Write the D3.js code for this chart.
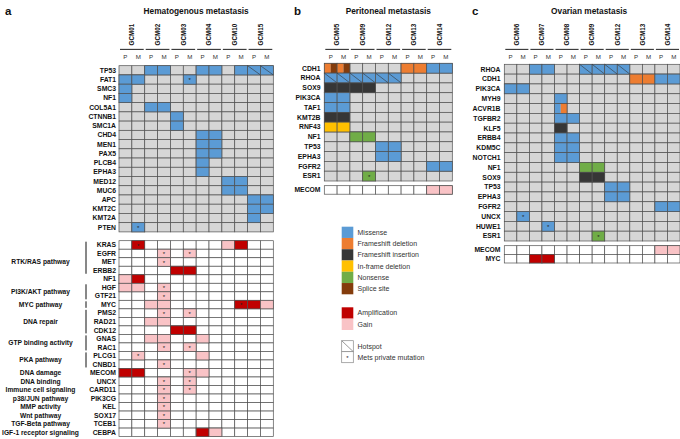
<!DOCTYPE html>
<html><head><meta charset="utf-8">
<script src="https://cdn.jsdelivr.net/npm/d3@7"></script>
<style>body{margin:0;background:#fff}svg{display:block}text{font-family:"Liberation Sans",Arial,sans-serif}</style>
</head><body><svg id="chart" width="680" height="439"></svg>
<script>
// ---------------- DATA ----------------
const mutTypes = ["Missense","Frameshift deletion","Frameshift insertion","In-frame deletion","Nonsense","Splice site"];
const cnvTypes = ["Amplification","Gain"];
const markTypes = ["Hotspot","Mets private mutation"];
const sampleTypes = ["P","M"];

// Panel a: hematogenous metastasis
const aPatients = ["GCM01","GCM02","GCM03","GCM04","GCM10","GCM15"];
const aMutGenes = ["TP53","FAT1","SMC3","NF1","COL5A1","CTNNB1","SMC1A","CHD4","MEN1","PAX5","PLCB4","EPHA3","MED12","MUC6","APC","KMT2C","KMT2A","PTEN"];
// [gene, patient, samples, type, flag]  flag: h = hotspot, * = mets private
const aMutations = [
  ["TP53","GCM02","PM","Missense"],["TP53","GCM04","PM","Missense"],["TP53","GCM10","M","Missense"],["TP53","GCM15","PM","Missense","h"],
  ["FAT1","GCM01","PM","Missense"],["FAT1","GCM03","M","Missense","*"],
  ["SMC3","GCM01","P","Missense"],["NF1","GCM01","P","Missense"],
  ["COL5A1","GCM02","PM","Missense"],["CTNNB1","GCM03","P","Missense"],["SMC1A","GCM03","P","Missense"],
  ["CHD4","GCM04","PM","Missense"],["MEN1","GCM04","PM","Missense"],["PAX5","GCM04","PM","Missense"],
  ["PLCB4","GCM04","P","Missense"],["EPHA3","GCM04","P","Missense"],
  ["MED12","GCM10","PM","Missense"],["MUC6","GCM10","PM","Missense"],
  ["APC","GCM15","PM","Missense"],["KMT2C","GCM15","PM","Missense"],["KMT2A","GCM15","P","Missense"],
  ["PTEN","GCM01","M","Missense","*"]
];
const aCnvGenes = ["KRAS","EGFR","MET","ERBB2","NF1","HGF","GTF21","MYC","PMS2","RAD21","CDK12","GNAS","RAC1","PLCG1","CNBD1","MECOM","UNCX","CARD11","PIK3CG","KEL","SOX17","TCEB1","CEBPA"];
// [gene, patient, samples, level, flag]
const aCnv = [
  ["KRAS","GCM01","M","Amplification","*"],["KRAS","GCM10","P","Gain"],["KRAS","GCM10","M","Amplification"],
  ["EGFR","GCM02","M","Gain","*"],["EGFR","GCM03","M","Gain","*"],
  ["MET","GCM02","M","Gain","*"],
  ["ERBB2","GCM03","PM","Amplification"],
  ["NF1","GCM01","P","Gain"],["NF1","GCM01","M","Amplification"],
  ["HGF","GCM01","PM","Gain"],["HGF","GCM02","M","Gain","*"],
  ["GTF21","GCM02","M","Gain","*"],
  ["MYC","GCM02","PM","Gain"],["MYC","GCM10","M","Amplification","*"],["MYC","GCM15","P","Amplification"],["MYC","GCM15","M","Gain"],
  ["PMS2","GCM02","M","Gain","*"],["PMS2","GCM03","M","Gain","*"],
  ["RAD21","GCM02","PM","Gain"],
  ["CDK12","GCM03","PM","Amplification"],
  ["GNAS","GCM02","PM","Gain"],["GNAS","GCM04","P","Gain"],
  ["RAC1","GCM02","M","Gain","*"],["RAC1","GCM03","M","Gain","*"],
  ["PLCG1","GCM01","M","Gain","*"],["PLCG1","GCM04","P","Gain"],
  ["CNBD1","GCM02","M","Gain","*"],
  ["MECOM","GCM01","PM","Amplification"],["MECOM","GCM03","M","Gain","*"],["MECOM","GCM04","P","Gain"],
  ["UNCX","GCM02","M","Gain","*"],["UNCX","GCM03","M","Gain","*"],
  ["CARD11","GCM02","M","Gain","*"],["CARD11","GCM03","M","Gain","*"],
  ["PIK3CG","GCM02","M","Gain","*"],["KEL","GCM02","M","Gain","*"],["SOX17","GCM02","M","Gain","*"],["TCEB1","GCM02","M","Gain","*"],
  ["CEBPA","GCM04","P","Amplification"],["CEBPA","GCM04","M","Gain"]
];
// [label, genes, number of bracketed rows]
const aPathways = [
  ["RTK/RAS pathway",["KRAS","EGFR","MET","ERBB2","NF1"],4],
  ["PI3K/AKT pathway",["HGF","GTF21"],2],
  ["MYC pathway",["MYC"],1],
  ["DNA repair",["PMS2","RAD21","CDK12"],3],
  ["GTP binding activity",["GNAS","RAC1"],2],
  ["PKA pathway",["PLCG1","CNBD1"],2],
  ["DNA damage",["MECOM"],0],
  ["DNA binding",["UNCX"],0],
  ["Immune cell signaling",["CARD11"],0],
  ["p38/JUN pathway",["PIK3CG"],0],
  ["MMP activity",["KEL"],0],
  ["Wnt pathway",["SOX17"],0],
  ["TGF-Beta pathway",["TCEB1"],0],
  ["IGF-1 receptor signaling",["CEBPA"],0]
];

// Panel b: peritoneal metastasis
const bPatients = ["GCM05","GCM09","GCM12","GCM13","GCM14"];
const bMutGenes = ["CDH1","RHOA","SOX9","PIK3CA","TAF1","KMT2B","RNF43","NF1","TP53","EPHA3","FGFR2","ESR1"];
const bMutations = [
  ["CDH1","GCM05","PM","Frameshift deletion|Splice site"],["CDH1","GCM13","PM","Frameshift deletion"],["CDH1","GCM14","PM","Missense"],
  ["RHOA","GCM05","PM","Missense","h"],["RHOA","GCM09","PM","Missense","h"],["RHOA","GCM12","PM","Missense","h"],
  ["SOX9","GCM05","PM","Frameshift insertion"],["SOX9","GCM09","PM","Frameshift insertion"],
  ["PIK3CA","GCM05","PM","Missense"],["TAF1","GCM05","PM","Missense"],
  ["KMT2B","GCM05","PM","Frameshift insertion"],["RNF43","GCM05","PM","In-frame deletion"],
  ["NF1","GCM09","PM","Nonsense"],["TP53","GCM12","PM","Missense"],["EPHA3","GCM12","PM","Missense"],
  ["FGFR2","GCM14","PM","Missense"],["ESR1","GCM09","M","Nonsense","*"]
];
const bCnvGenes = ["MECOM"];
const bCnv = [["MECOM","GCM14","PM","Gain"]];

// Panel c: ovarian metastasis
const cPatients = ["GCM06","GCM07","GCM08","GCM09","GCM12","GCM13","GCM14"];
const cMutGenes = ["RHOA","CDH1","PIK3CA","MYH9","ACVR1B","TGFBR2","KLF5","ERBB4","KDM5C","NOTCH1","NF1","SOX9","TP53","EPHA3","FGFR2","UNCX","HUWE1","ESR1"];
const cMutations = [
  ["RHOA","GCM07","PM","Missense"],["RHOA","GCM09","PM","Missense","h"],["RHOA","GCM12","PM","Missense","h"],
  ["CDH1","GCM13","PM","Frameshift deletion"],["CDH1","GCM14","PM","Missense"],
  ["PIK3CA","GCM06","PM","Missense"],["MYH9","GCM08","P","Missense"],
  ["ACVR1B","GCM08","P","Missense|Frameshift deletion"],["TGFBR2","GCM08","PM","Missense"],
  ["KLF5","GCM08","P","Frameshift insertion"],["ERBB4","GCM08","PM","Missense"],
  ["KDM5C","GCM08","PM","Missense"],["NOTCH1","GCM08","PM","Missense"],
  ["NF1","GCM09","PM","Nonsense"],["SOX9","GCM09","PM","Frameshift insertion"],
  ["TP53","GCM12","PM","Missense"],["EPHA3","GCM12","PM","Missense"],["FGFR2","GCM14","PM","Missense"],
  ["UNCX","GCM06","M","Missense","*"],["HUWE1","GCM07","M","Missense","*"],["ESR1","GCM09","M","Nonsense","*"]
];
const cCnvGenes = ["MECOM","MYC"];
const cCnv = [["MECOM","GCM14","PM","Gain"],["MYC","GCM07","PM","Amplification"]];

// ---------------- STYLE ----------------
const colors = {
  "Missense":"#5b9bd5","Frameshift deletion":"#ed7d31","Frameshift insertion":"#363636",
  "In-frame deletion":"#ffc000","Nonsense":"#70ad47","Splice site":"#843c0c",
  "Amplification":"#c00000","Gain":"#f9c3c6"
};
const GREY = "#d6d6d6", BORDER = "#505050", TXT = "#111";
const svg = d3.select("#chart");

function drawPanel(cfg) {
  const g = svg.append("g");
  const cols = cfg.patients.flatMap(p => sampleTypes.map(s => p + "-" + s));
  const x = d3.scaleBand().domain(cols).range([cfg.x0, cfg.x1]);
  const bw = x.bandwidth();
  const yM = d3.scaleBand().domain(cfg.mutGenes).range([cfg.mY0, cfg.mY1]);
  const yC = d3.scaleBand().domain(cfg.cnvGenes).range([cfg.cY0, cfg.cY1]);

  // letter + title
  g.append("text").attr("x", cfg.letterX).attr("y", 15).attr("font-size", 11.5).attr("font-weight", "bold").attr("fill", TXT).text(cfg.letter);
  g.append("text").attr("x", (cfg.x0 + cfg.x1) / 2 + (cfg.titleDx || 0)).attr("y", 14).attr("text-anchor", "middle")
    .attr("font-size", 8.3).attr("font-weight", "bold").attr("fill", TXT).text(cfg.title);

  // patient headers
  cfg.patients.forEach(p => {
    const l = x(p + "-P"), r = x(p + "-M") + bw, cx = (l + r) / 2;
    g.append("text").attr("transform", `translate(${cx + 2.3},45.5) rotate(-90)`)
      .attr("font-size", 6.3).attr("font-weight", "bold").attr("fill", TXT).text(p);
    g.append("line").attr("x1", l + 1).attr("x2", r - 1).attr("y1", 49.4).attr("y2", 49.4)
      .attr("stroke", "#333").attr("stroke-width", 1.1);
  });
  cols.forEach(c => {
    g.append("text").attr("x", x(c) + bw / 2).attr("y", 59).attr("text-anchor", "middle")
      .attr("font-size", 6.2).attr("fill", "#333").text(c.split("-")[1]);
  });

  function expand(rows) {
    const out = [];
    rows.forEach(([gene, p, ss, type, flag]) => ss.split("").forEach(s => out.push({gene, col: p + "-" + s, type, flag})));
    return out;
  }

  // mutation grid
  const mg = g.append("g");
  cfg.mutGenes.forEach(gene => cols.forEach(c => {
    mg.append("rect").attr("x", x(c)).attr("y", yM(gene)).attr("width", bw).attr("height", yM.bandwidth())
      .attr("fill", GREY).attr("stroke", BORDER).attr("stroke-width", 0.7);
  }));
  expand(cfg.mutations).forEach(d => {
    const types = d.type.split("|");
    const hw = bw / types.length;
    types.forEach((t, i) => {
      mg.append("rect").attr("x", x(d.col) + i * hw).attr("y", yM(d.gene)).attr("width", hw).attr("height", yM.bandwidth())
        .attr("fill", colors[t]).attr("stroke", "none");
    });
    mg.append("rect").attr("x", x(d.col)).attr("y", yM(d.gene)).attr("width", bw).attr("height", yM.bandwidth())
      .attr("fill", "none").attr("stroke", BORDER).attr("stroke-width", 0.7);
    if (d.flag === "h") {
      mg.append("line").attr("x1", x(d.col)).attr("y1", yM(d.gene)).attr("x2", x(d.col) + bw).attr("y2", yM(d.gene) + yM.bandwidth())
        .attr("stroke", "#333").attr("stroke-width", 0.6);
    }
    if (d.flag === "*") {
      mg.append("text").attr("x", x(d.col) + bw / 2).attr("y", yM(d.gene) + yM.bandwidth() / 2 + 2.6)
        .attr("text-anchor", "middle").attr("font-size", 6).attr("fill", "#222").text("*");
    }
  });
  cfg.mutGenes.forEach(gene => {
    g.append("text").attr("x", cfg.labelX).attr("y", yM(gene) + yM.bandwidth() / 2 + 2.4).attr("text-anchor", "end")
      .attr("font-size", 6.8).attr("font-weight", "bold").attr("fill", TXT).text(gene);
  });

  // CNV grid
  const cg = g.append("g");
  cfg.cnvGenes.forEach(gene => cols.forEach(c => {
    cg.append("rect").attr("x", x(c)).attr("y", yC(gene)).attr("width", bw).attr("height", yC.bandwidth())
      .attr("fill", "#fff").attr("stroke", BORDER).attr("stroke-width", 0.7);
  }));
  expand(cfg.cnv).forEach(d => {
    cg.append("rect").attr("x", x(d.col)).attr("y", yC(d.gene)).attr("width", bw).attr("height", yC.bandwidth())
      .attr("fill", colors[d.type]).attr("stroke", BORDER).attr("stroke-width", 0.7);
    if (d.flag === "*") {
      cg.append("text").attr("x", x(d.col) + bw / 2).attr("y", yC(d.gene) + yC.bandwidth() / 2 + 2.6)
        .attr("text-anchor", "middle").attr("font-size", 6).attr("fill", "#222").text("*");
    }
  });
  cfg.cnvGenes.forEach(gene => {
    g.append("text").attr("x", cfg.labelX).attr("y", yC(gene) + yC.bandwidth() / 2 + 2.4).attr("text-anchor", "end")
      .attr("font-size", 6.8).attr("font-weight", "bold").attr("fill", TXT).text(gene);
  });

  if (cfg.pathways) {
    cfg.pathways.forEach(([label, genes, nBracket]) => {
      const top = yC(genes[0]), bot = yC(genes[genes.length - 1]) + yC.bandwidth();
      if (nBracket > 0) {
        const bBot = yC(genes[nBracket - 1]) + yC.bandwidth();
        g.append("line").attr("x1", 86).attr("x2", 86).attr("y1", top + 1).attr("y2", bBot - 1)
          .attr("stroke", "#111").attr("stroke-width", 1);
      }
      g.append("text").attr("x", 40.5).attr("y", (top + bot) / 2 + 2.4).attr("text-anchor", "middle")
        .attr("font-size", 6.7).attr("font-weight", "bold").attr("fill", TXT).text(label);
    });
  }
}

drawPanel({letter:"a", letterX:5, title:"Hematogenous metastasis", patients:aPatients,
  mutGenes:aMutGenes, mutations:aMutations, cnvGenes:aCnvGenes, cnv:aCnv, pathways:aPathways,
  x0:119, x1:273.3, mY0:65.7, mY1:231.9, cY0:240.7, cY1:436.6, labelX:116});
drawPanel({letter:"b", letterX:294, title:"Peritoneal metastasis", patients:bPatients,
  mutGenes:bMutGenes, mutations:bMutations, cnvGenes:bCnvGenes, cnv:bCnv,
  x0:324.3, x1:452.3, mY0:63.3, mY1:181, cY0:185.7, cY1:194.2, labelX:320.5});
drawPanel({letter:"c", letterX:472, title:"Ovarian metastasis", titleDx:-3, patients:cPatients,
  mutGenes:cMutGenes, mutations:cMutations, cnvGenes:cCnvGenes, cnv:cCnv,
  x0:504.3, x1:680, mY0:64.3, mY1:241, cY0:245.7, cY1:263, labelX:500.5});

// ---------------- LEGEND ----------------
const lg = svg.append("g");
const sw = 11.6;
const ly = d3.scaleBand().domain(mutTypes).range([226.7, 294.3]);
mutTypes.forEach(t => {
  lg.append("rect").attr("x", 341.7).attr("y", ly(t)).attr("width", sw).attr("height", ly.bandwidth()).attr("fill", colors[t]);
  lg.append("text").attr("x", 357.5).attr("y", ly(t) + ly.bandwidth() / 2 + 2.5).attr("font-size", 7).attr("fill", "#333").text(t);
});
const cy = d3.scaleBand().domain(cnvTypes).range([307.3, 330]);
cnvTypes.forEach(t => {
  lg.append("rect").attr("x", 341.7).attr("y", cy(t)).attr("width", sw).attr("height", cy.bandwidth()).attr("fill", colors[t]);
  lg.append("text").attr("x", 357.5).attr("y", cy(t) + cy.bandwidth() / 2 + 2.5).attr("font-size", 7).attr("fill", "#333").text(t);
});
const my = d3.scaleBand().domain(markTypes).range([340.7, 362.7]);
markTypes.forEach((t, i) => {
  lg.append("rect").attr("x", 341.7).attr("y", my(t)).attr("width", sw).attr("height", my.bandwidth())
    .attr("fill", "#fff").attr("stroke", "#888").attr("stroke-width", 0.7);
  if (i === 0) lg.append("line").attr("x1", 341.7).attr("y1", my(t)).attr("x2", 341.7 + sw).attr("y2", my(t) + my.bandwidth())
    .attr("stroke", "#555").attr("stroke-width", 0.6);
  else lg.append("text").attr("x", 341.7 + sw / 2).attr("y", my(t) + my.bandwidth() / 2 + 2.6).attr("text-anchor", "middle")
    .attr("font-size", 6).attr("fill", "#222").text("*");
  lg.append("text").attr("x", 357.5).attr("y", my(t) + my.bandwidth() / 2 + 2.5).attr("font-size", 7).attr("fill", "#333").text(t);
});
</script></body></html>
